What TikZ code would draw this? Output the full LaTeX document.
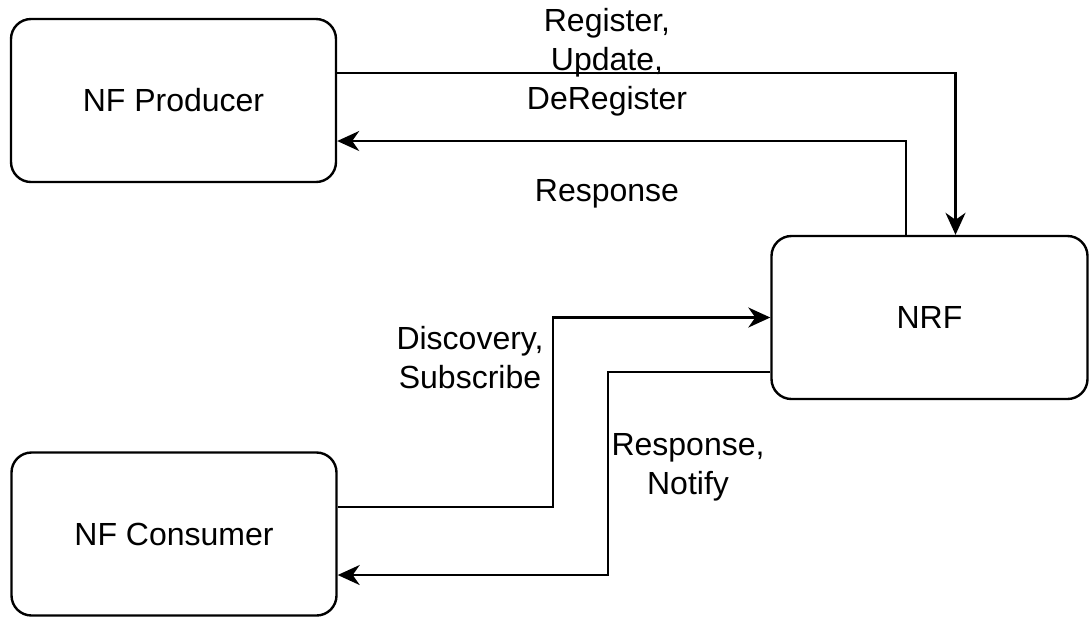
\documentclass[tikz,border=0pt]{standalone}
\usepackage{fontspec}
\setmainfont{Liberation Sans}
\usetikzlibrary{arrows.meta,calc}

\begin{document}
\begin{tikzpicture}[x=0.5pt,y=-0.5pt,
  nf/.style={draw,line width=1.2pt,rounded corners=10pt,minimum width=162.5pt,
    minimum height=81.5pt,inner sep=0pt,font=\fontsize{16}{19.5}\selectfont},
  flow/.style={line width=1.2pt,-{Stealth[length=11pt,width=10pt,inset=3.5pt]}},
  lbl/.style={align=center,inner sep=0pt,font=\fontsize{16}{19.5}\selectfont}]
  \useasboundingbox (0,0) rectangle (1090,618);
  \node[nf] (prod) at (173.5,100.5) {NF Producer};
  \node[nf] (cons) at (174,534) {NF Consumer};
  \node[nf,minimum width=158pt] (nrf) at (929.5,317.5) {NRF};
  \coordinate (bendA) at (553,400);
  \coordinate (bendB) at (608,470);
  \draw[flow] ([yshift=13.75pt]prod.east) -| ([xshift=13pt]nrf.north);
  \draw[flow] ([xshift=-11.75pt]nrf.north) |- ([yshift=-20.25pt]prod.east);
  \draw[flow] ([yshift=13.5pt]cons.east) -| (bendA) |- (nrf.west);
  \draw[flow] ([yshift=-27.25pt]nrf.west) -| (bendB) |- ([yshift=-20.5pt]cons.east);
  \node[lbl] (reg) at (607,62) {Register,\\Update,\\DeRegister};
  \node[lbl] (resp) at (607,194) {Response};
  \node[lbl] (disc) at (470,358) {Discovery,\\Subscribe};
  \node[lbl] (notif) at (688,467) {Response,\\Notify};
\end{tikzpicture}
\end{document}
